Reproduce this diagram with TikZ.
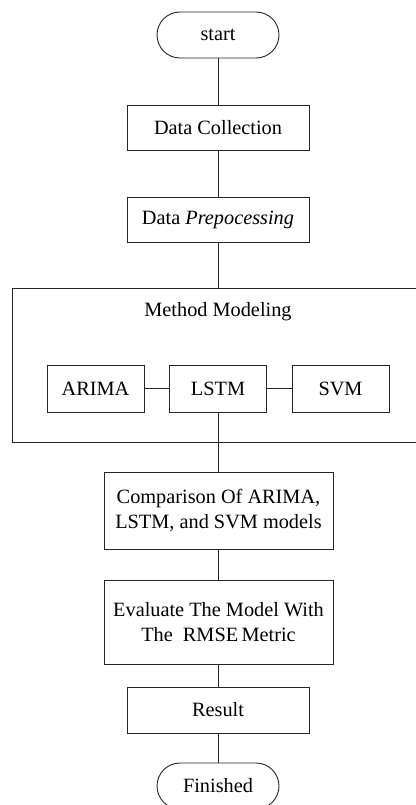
\documentclass[tikz,border=0pt]{standalone}
\usepackage{fontspec}
\setmainfont{Liberation Serif}
\begin{document}
\begin{tikzpicture}[x=1pt,y=-1pt,
  every node/.style={font=\fontsize{20.3}{25}\selectfont, inner sep=0pt, text=black},
  line/.style={draw=black!85, line width=0.9pt},
  procbox/.style={line, rectangle, align=center},
  terminal/.style={line, rectangle, rounded corners=23pt, minimum width=122pt, minimum height=46pt}
]
\useasboundingbox (0,0) rectangle (415,805);
\fill[white] (0,0) rectangle (415,805);

% start and end terminals
\node[terminal] (start) at (218,35) {start};

% main process steps
\node[procbox, minimum width=182pt, minimum height=45pt] (collect) at (218,127.5) {Data Collection};
\node[procbox, minimum width=182pt, minimum height=45pt] (prep) at (218,219.5) {Data \textit{Prepocessing}};

% modelling frame with its three models
\draw[line] (430,288) -- (12,288) -- (12,442) -- (430,442);
\coordinate (frametop) at (218,288);
\node (frametitle) at (218,312) {Method Modeling};
\node[procbox, minimum width=97pt, minimum height=47pt] (arima) at (95.5,388.5) {ARIMA};
\node[procbox, minimum width=97pt, minimum height=47pt] (lstm) at (218,388.5) {LSTM};
\node[procbox, minimum width=97pt, minimum height=47pt] (svm) at (340.5,388.5) {SVM};

\node[procbox, minimum width=229pt, minimum height=77pt] (compare) at (218.5,510.5) {Comparison Of ARIMA,\\LSTM, and SVM models};
\node[procbox, minimum width=229pt, minimum height=84pt] (evaluate) at (218.5,622) {Evaluate The Model With\\The\ \ RMSE\,Metric};
\node[procbox, minimum width=182pt, minimum height=46pt] (result) at (218,710) {Result};
\node[terminal] (finish) at (218,786) {Finished};

% connectors
\draw[line] (start) -- (collect);
\draw[line] (collect) -- (prep);
\draw[line] (prep) -- (frametop);
\draw[line] (arima) -- (lstm);
\draw[line] (lstm) -- (svm);
\draw[line] (lstm.south) -- (lstm.south |- compare.north);
\draw[line] (compare.south -| evaluate.north) -- (evaluate.north);
\draw[line] (evaluate.south -| result.north) -- (result.north);
\draw[line] (result) -- (finish);
\end{tikzpicture}
\end{document}
